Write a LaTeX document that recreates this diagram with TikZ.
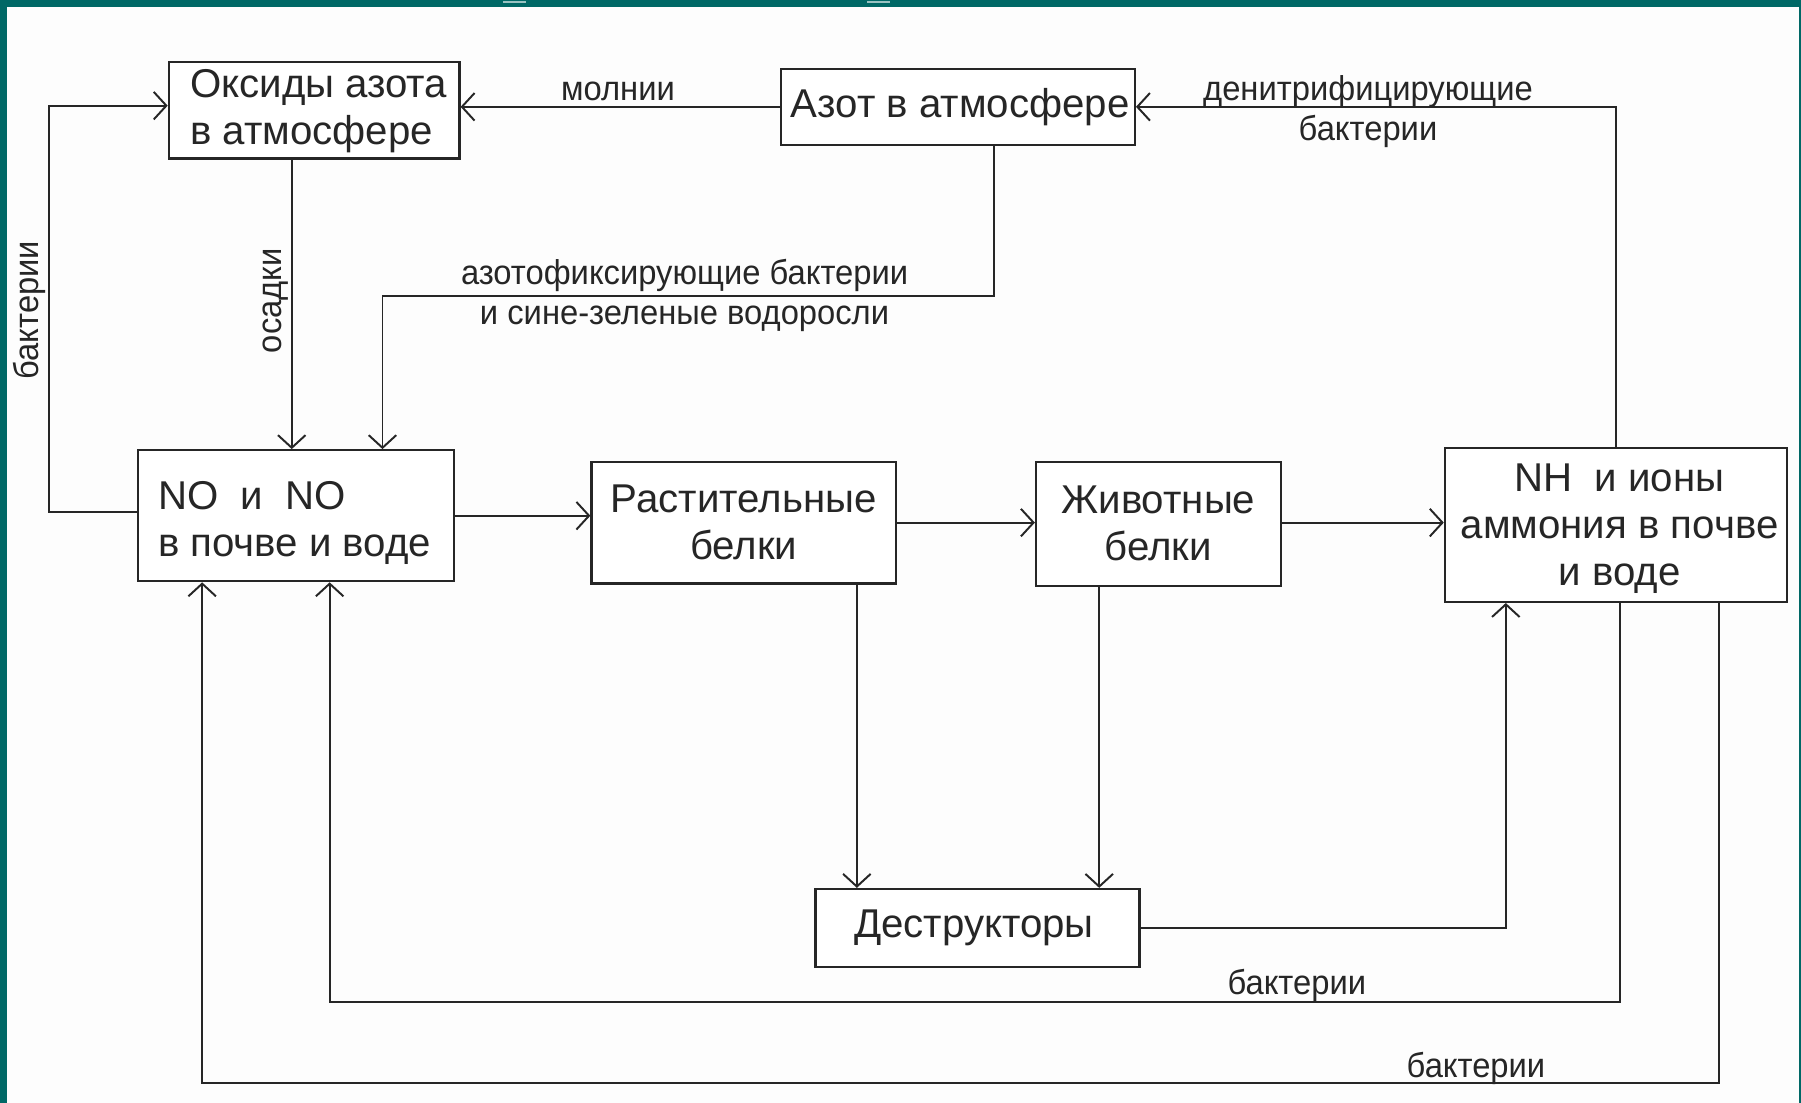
\documentclass[tikz,border=0pt]{standalone}
\usepackage{fontspec}
\setmainfont{Liberation Sans}
\newfontfamily\labelfont[FakeStretch=0.95]{Liberation Sans}
\usetikzlibrary{arrows.meta,calc}
\definecolor{frameteal}{RGB}{0,104,102}
\definecolor{ink}{RGB}{38,38,38}
\definecolor{paper}{RGB}{253,253,253}
\begin{document}
\begin{tikzpicture}[x=1pt,y=-1pt,
  box/.style={draw=ink,line width=2pt,fill=white,inner sep=0pt},
  boxtext/.style={text=ink,inner sep=0pt,font=\fontsize{35}{41}\selectfont},
  flow/.style={draw=ink,line width=1.7pt,-{Straight Barb[length=11pt,width=24pt]}},
  lbl/.style={text=ink,font=\labelfont\fontsize{30}{35}\selectfont,align=center,inner sep=0pt}]

% slide frame
\useasboundingbox (0,0) rectangle (1568,960);
\fill[frameteal] (0,0) rectangle (1568,960);
\fill[paper] (6,6) rectangle (1566,960);
\draw[white,opacity=0.6,line width=2pt] (438,2) -- (458,2);
\draw[white,opacity=0.6,line width=2pt] (755,2) -- (775,2);

% boxes
\node[box,minimum width=253pt,minimum height=84pt] (oks) at (273.5,96) {};
\node[box,minimum width=308pt,minimum height=66pt] (azot) at (834,93) {};
\node[box,minimum width=275pt,minimum height=114pt] (no) at (257.5,449) {};
\node[box,minimum width=265pt,minimum height=106pt] (rast) at (647.5,455) {};
\node[box,minimum width=213pt,minimum height=108pt] (zhiv) at (1008.5,456) {};
\node[box,minimum width=298pt,minimum height=134pt] (nh) at (1407,457) {};
\node[box,minimum width=282pt,minimum height=68pt] (destr) at (851,808) {};

% box texts
\node[boxtext,align=left] (oksT) at ($(oks.center)+(4,1)$) {Оксиды азота\\в атмосфере};
\node[boxtext] (azotT) at ($(azot.center)+(2,0)$) {Азот в атмосфере};
\node[boxtext,align=left] (noT) at ($(no.center)+(-1,6)$)
  {NO\hspace{0.55em}и\hspace{0.55em}NO\\в почве и воде};
\node[boxtext,align=center] (rastT) at (rast.center) {Растительные\\белки};
\node[boxtext,align=center] (zhivT) at (zhiv.center) {Животные\\белки};
\node[boxtext,align=center] (nhT) at ($(nh.center)+(3,3)$)
  {NH\hspace{0.55em}и ионы\\аммония в почве\\и воде};
\node[boxtext] (destrT) at ($(destr.center)+(-3,0)$) {Деструкторы};

% bend points and columns of the connectors
\coordinate (xsed) at (254,0);
\coordinate (fixtop) at (865,0);
\coordinate (fixbend) at (333,258);
\coordinate (leftlow) at (43,446);
\coordinate (lefttop) at (43,92);
\coordinate (xrast) at (746,0);
\coordinate (xzhiv) at (957,0);
\coordinate (xdestr) at (1311,808);
\coordinate (loopa) at (1410,872);
\coordinate (loopaend) at (287,872);
\coordinate (loopb) at (1497,943);
\coordinate (loopbend) at (176,943);

% connectors
\draw[flow] (azot.west) -- (oks.east |- azot.west);
\draw[flow] (nh.north) |- (azot.east);
\draw[flow] (oks.south -| xsed) -- (no.north -| xsed);
\draw[flow] (azot.south -| fixtop) |- (fixbend) -- (no.north -| fixbend);
\draw[flow] (no.west |- leftlow) -- (leftlow) -- (lefttop) -- (oks.west |- lefttop);
\draw[flow] (no.east) -- (no.east -| rast.west);
\draw[flow] (rast.east) -- (rast.east -| zhiv.west);
\draw[flow] (zhiv.east |- rast.east) -- (nh.west |- rast.east);
\draw[flow] (rast.south -| xrast) -- (destr.north -| xrast);
\draw[flow] (zhiv.south -| xzhiv) -- (destr.north -| xzhiv);
\draw[flow] (destr.east) -- (xdestr) -- (nh.south -| xdestr);
\draw[flow] (nh.south -| loopa) -- (loopa) -- (loopaend) -- (no.south -| loopaend);
\draw[flow] (nh.south -| loopb) -- (loopb) -- (loopbend) -- (no.south -| loopbend);

% labels
\node[lbl] (lmol) at (538,80) {молнии};
\node[lbl] (lden) at (1191,97) {денитрифицирующие\\бактерии};
\node[lbl,rotate=90] (lsed) at (240,262) {осадки};
\node[lbl,rotate=90] (lbakl) at (26,270) {бактерии};
\node[lbl] (lfix) at (596,257) {азотофиксирующие бактерии\\и сине-зеленые водоросли};
\node[lbl] (lbak1) at (1129,858) {бактерии};
\node[lbl] (lbak2) at (1285,930) {бактерии};
\end{tikzpicture}
\end{document}
